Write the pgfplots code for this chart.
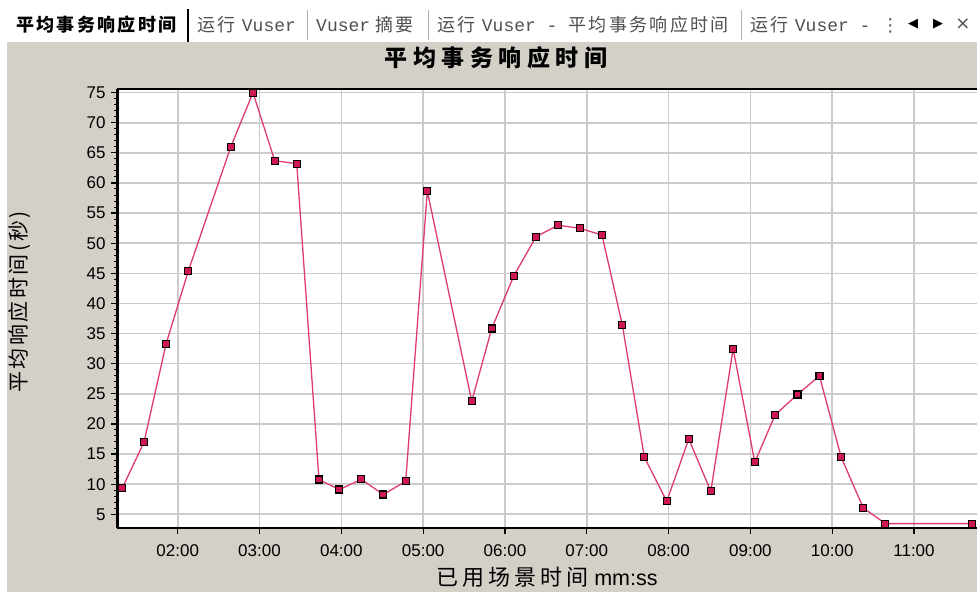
\documentclass[border=0pt]{standalone}
\usepackage{fontspec}
\usepackage{pgfplots}
\pgfplotsset{compat=1.18}
\setmainfont{Liberation Sans}
\newfontfamily\cjk{Noto Sans CJK SC}
\newfontfamily\cjktab[LetterSpace=13]{Noto Sans CJK SC}
\newfontfamily\cjktitle[LetterSpace=24]{Noto Sans CJK SC}
\newfontfamily\cjkylab[LetterSpace=12]{Noto Sans CJK SC}
\newfontfamily\cjkxlab[LetterSpace=18]{Noto Sans CJK SC}
\newfontfamily\cjkmono{Liberation Mono}
\newfontfamily\sym{DejaVu Sans}
\definecolor{wingray}{RGB}{212,208,200}
\definecolor{gridgray}{RGB}{204,202,206}
\definecolor{linepink}{RGB}{222,60,110}
\definecolor{markfill}{RGB}{205,25,80}
\definecolor{tabtext}{RGB}{80,80,80}
\pgfplotstableread{
t v
1.323 9.37
1.588 16.96
1.857 33.24
2.130 45.40
2.648 65.96
2.920 75.00
3.186 63.70
3.455 63.20
3.727 10.76
3.976 9.10
4.245 10.80
4.513 8.27
4.787 10.48
5.051 58.65
5.594 23.77
5.839 35.85
6.108 44.58
6.380 51.07
6.649 53.00
6.918 52.46
7.187 51.35
7.435 36.40
7.704 14.47
7.978 7.16
8.247 17.50
8.516 8.82
8.789 32.46
9.054 13.64
9.302 21.50
9.575 24.88
9.844 27.97
10.110 14.47
10.380 6.05
10.650 3.45
11.710 3.45
}\datatable
\begin{document}
\begin{tikzpicture}[x=1pt,y=1pt]
\useasboundingbox (0,0) rectangle (977,-592);
\fill[white] (0,0) rectangle (977,-592);
\fill[wingray] (7,-42) rectangle (977,-592);
% tab bar
\node[anchor=base west,inner sep=0pt] at (16,-31) {\fontsize{18}{18}\selectfont\cjktab\bfseries 平均事务响应时间};
\draw[black,line width=2pt] (187.5,-9) -- (187.5,-42);
\node[anchor=base west,inner sep=0pt,text=tabtext] at (197,-31) {\fontsize{18}{18}\selectfont\cjktab 运行 {\cjkmono Vuser}};
\draw[gray!60,line width=1pt] (307.5,-10) -- (307.5,-40);
\node[anchor=base west,inner sep=0pt,text=tabtext] at (316,-31) {\fontsize{18}{18}\selectfont{\cjkmono Vuser} \cjktab 摘要};
\draw[gray!60,line width=1pt] (428.5,-10) -- (428.5,-40);
\node[anchor=base west,inner sep=0pt,text=tabtext] at (437,-31) {\fontsize{18}{18}\selectfont\cjktab 运行 {\cjkmono Vuser - }平均事务响应时间};
\draw[gray!60,line width=1pt] (741.5,-10) -- (741.5,-40);
\node[anchor=base west,inner sep=0pt,text=tabtext] at (750,-31) {\fontsize{18}{18}\selectfont\cjktab 运行 {\cjkmono Vuser - }{\sym ⋮}};
\node[inner sep=0pt] at (913,-24) {\fontsize{13}{13}\selectfont\sym ◀};
\node[inner sep=0pt] at (938,-24) {\fontsize{13}{13}\selectfont\sym ▶};
\node[inner sep=0pt,text=tabtext] at (963,-24) {\fontsize{18}{18}\selectfont\sym ×};
% title
\node[inner sep=0pt] at (496,-58) {\fontsize{23}{23}\selectfont\cjktitle\bfseries 平均事务响应时间};
% y label
\node[inner sep=0pt,rotate=90] at (20,-302) {\fontsize{21}{21}\selectfont\cjkylab 平均响应时间(秒)};
% x label
\node[inner sep=0pt] at (547,-577) {\fontsize{22}{22}\selectfont{\cjkxlab 已用场景时间} {\fontsize{21.5}{21.5}\selectfont mm:ss}};
\begin{axis}[
  at={(117pt,-528pt)}, anchor=south west,
  scale only axis, width=860pt, height=439pt,
  xmin=1.258, xmax=11.77, ymin=2.72, ymax=75.6,
  axis x line*=box, axis y line*=left,
  x axis line style={black,line width=2.5pt},
  y axis line style={black,line width=3pt},
  axis background/.style={fill=white},
  xtick={2,3,4,5,6,7,8,9,10,11},
  xticklabels={02:00,03:00,04:00,05:00,06:00,07:00,08:00,09:00,10:00,11:00},
  ytick={5,10,...,75},
  minor y tick num=4,
  xtick pos=lower, ytick pos=left,
  tick align=outside,
  major tick length=6pt, minor tick length=3pt,
  every tick/.style={black,line width=1.2pt},
  minor tick style={black,line width=1pt},
  grid=major,
  major grid style={draw=gridgray,line width=1.6pt},
  /pgf/number format/assume math mode=true,
  tick label style={font=\fontsize{17}{17}\selectfont},
  xticklabel style={yshift=-7pt},
  yticklabel style={xshift=-2pt},
]
\addplot[color=linepink,line width=1.3pt,mark=square*,mark size=3.5pt,
  mark options={fill=markfill,draw=black,line width=1.2pt}] table[x=t,y=v] {\datatable};
\end{axis}
\end{tikzpicture}
\end{document}
